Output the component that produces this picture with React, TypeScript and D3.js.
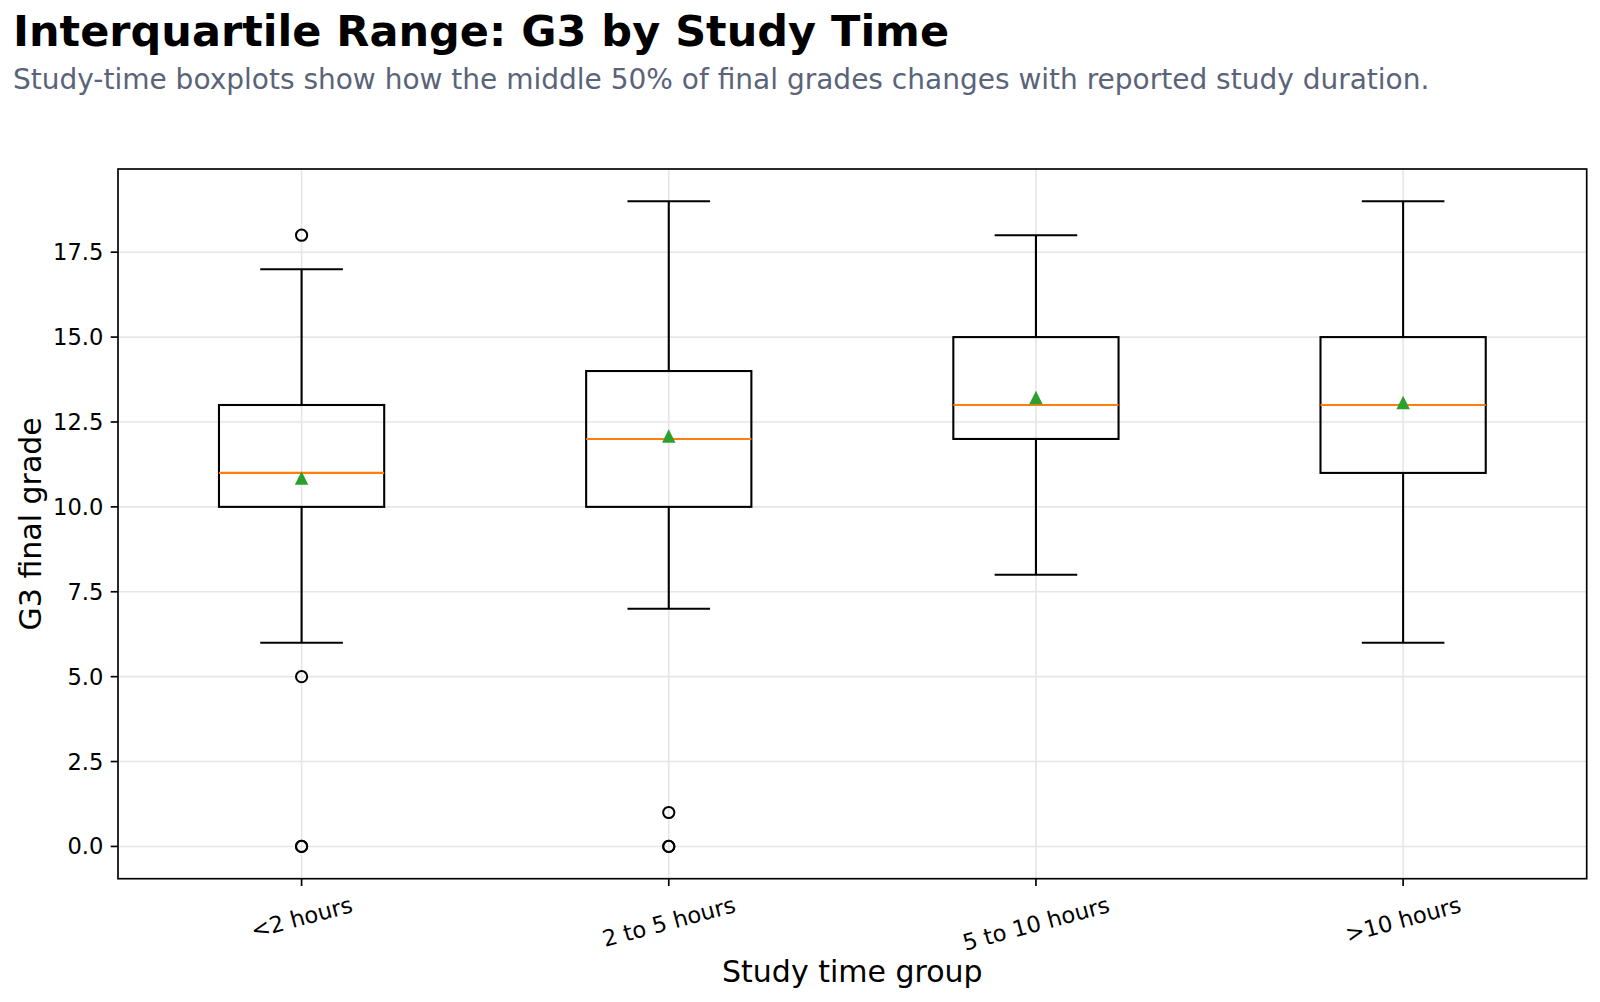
import React from "react";
import * as d3 from "d3";

// Study-time groups and their five-number summaries of final grade (G3)
const categories = ["<2 hours", "2 to 5 hours", "5 to 10 hours", ">10 hours"];
const whiskerLow = [6, 7, 8, 6];
const q1 = [10, 10, 12, 11];
const medians = [11, 12, 13, 13];
const q3 = [13, 14, 15, 15];
const whiskerHigh = [17, 19, 18, 19];
const means = [10.85, 12.09, 13.22, 13.07];
const outliers: number[][] = [[18, 5, 0, 0], [1, 0, 0], [], []];
const yTicks = [0, 2.5, 5, 7.5, 10, 12.5, 15, 17.5];

const W = 1600;
const H = 1002;
const plot = { left: 118, right: 1586.7, top: 169, bottom: 878.7 };

const FONT = "'DejaVu Sans', sans-serif";
const TICK_FS = 22.6;
const LABEL_FS = 30;

function measure(text: string, size: number): number {
  const c = document.createElement("canvas").getContext("2d");
  if (!c) return text.length * size * 0.55;
  c.font = `${size}px 'DejaVu Sans'`;
  return c.measureText(text).width;
}

// isosceles "up" triangle as wide as it is tall, centred on the origin
const upTriangle = {
  draw(ctx: d3.Path, size: number) {
    const s = Math.sqrt(size) / 2;
    ctx.moveTo(0, -s);
    ctx.lineTo(s, s);
    ctx.lineTo(-s, s);
    ctx.closePath();
  },
};

export default function App() {
  const x = d3.scaleLinear().domain([0.5, 4.5]).range([plot.left, plot.right]);
  const y = d3.scaleLinear().domain([-0.95, 19.95]).range([plot.bottom, plot.top]);

  const boxW = 0.45;
  const capW = boxW / 2;
  const lw = 2.08;
  const tickLen = 7.3;
  const pad = 7.3;
  const angle = 15;
  const rad = (angle * Math.PI) / 180;

  const tri = d3.symbol().type(upTriangle as any).size(13.5 * 13.5);

  return (
    <svg
      width={W}
      height={H}
      viewBox={`0 0 ${W} ${H}`}
      style={{ position: "absolute", left: 0, top: 0, background: "#fff", fontFamily: FONT }}
    >
      <rect x={0} y={0} width={W} height={H} fill="#fff" />
      <text x={13} y={46} fontSize={43} fontWeight="bold" fill="#000">
        Interquartile Range: G3 by Study Time
      </text>
      <text x={13} y={89} fontSize={28} fill="#5a6479">
        Study-time boxplots show how the middle 50% of final grades changes with reported study duration.
      </text>

      {/* grid */}
      <g stroke="#e6e6e6" strokeWidth={1.6}>
        {yTicks.map((t) => (
          <line key={`gy${t}`} x1={plot.left} x2={plot.right} y1={y(t)} y2={y(t)} />
        ))}
        {categories.map((c, i) => (
          <line key={`gx${c}`} x1={x(i + 1)} x2={x(i + 1)} y1={plot.top} y2={plot.bottom} />
        ))}
      </g>

      {/* boxes */}
      {categories.map((c, i) => {
        const cx = x(i + 1);
        const bl = x(i + 1 - boxW / 2);
        const br = x(i + 1 + boxW / 2);
        const cl = x(i + 1 - capW / 2);
        const cr = x(i + 1 + capW / 2);
        return (
          <g key={c}>
            <line x1={cx} x2={cx} y1={y(q1[i])} y2={y(whiskerLow[i])} stroke="#000" strokeWidth={lw} />
            <line x1={cx} x2={cx} y1={y(q3[i])} y2={y(whiskerHigh[i])} stroke="#000" strokeWidth={lw} />
            <line x1={cl} x2={cr} y1={y(whiskerLow[i])} y2={y(whiskerLow[i])} stroke="#000" strokeWidth={lw} />
            <line x1={cl} x2={cr} y1={y(whiskerHigh[i])} y2={y(whiskerHigh[i])} stroke="#000" strokeWidth={lw} />
            <rect
              x={bl}
              y={y(q3[i])}
              width={br - bl}
              height={y(q1[i]) - y(q3[i])}
              fill="none"
              stroke="#000"
              strokeWidth={lw}
            />
            <line x1={bl} x2={br} y1={y(medians[i])} y2={y(medians[i])} stroke="#ff7f0e" strokeWidth={lw} />
            <path d={tri() ?? ""} transform={`translate(${cx},${y(means[i])})`} fill="#2ca02c" />
            {outliers[i].map((v, k) => (
              <circle key={k} cx={cx} cy={y(v)} r={5.6} fill="none" stroke="#000" strokeWidth={2} />
            ))}
          </g>
        );
      })}

      {/* frame */}
      <rect
        x={plot.left}
        y={plot.top}
        width={plot.right - plot.left}
        height={plot.bottom - plot.top}
        fill="none"
        stroke="#000"
        strokeWidth={1.67}
      />

      {/* y axis */}
      {yTicks.map((t) => (
        <g key={`yt${t}`}>
          <line x1={plot.left - tickLen} x2={plot.left} y1={y(t)} y2={y(t)} stroke="#000" strokeWidth={1.67} />
          <text
            x={plot.left - tickLen - pad}
            y={y(t)}
            fontSize={TICK_FS}
            textAnchor="end"
            dominantBaseline="central"
            fill="#000"
          >
            {t.toFixed(1)}
          </text>
        </g>
      ))}

      {/* x axis */}
      {categories.map((c, i) => {
        const cx = x(i + 1);
        const w = measure(c, TICK_FS);
        const h = TICK_FS * 1.16;
        const bh = w * Math.sin(rad) + h * Math.cos(rad);
        const cy = plot.bottom + tickLen + pad + bh / 2 - 2;
        return (
          <g key={`xt${c}`}>
            <line x1={cx} x2={cx} y1={plot.bottom} y2={plot.bottom + tickLen} stroke="#000" strokeWidth={1.67} />
            <text
              x={cx}
              y={cy}
              fontSize={TICK_FS}
              textAnchor="middle"
              dominantBaseline="central"
              transform={`rotate(${-angle},${cx},${cy})`}
              fill="#000"
            >
              {c}
            </text>
          </g>
        );
      })}

      <text x={(plot.left + plot.right) / 2} y={982} fontSize={LABEL_FS} textAnchor="middle" fill="#000">
        Study time group
      </text>
      <text
        transform={`translate(41,${(plot.top + plot.bottom) / 2}) rotate(-90)`}
        fontSize={LABEL_FS}
        textAnchor="middle"
        fill="#000"
      >
        G3 final grade
      </text>
    </svg>
  );
}
